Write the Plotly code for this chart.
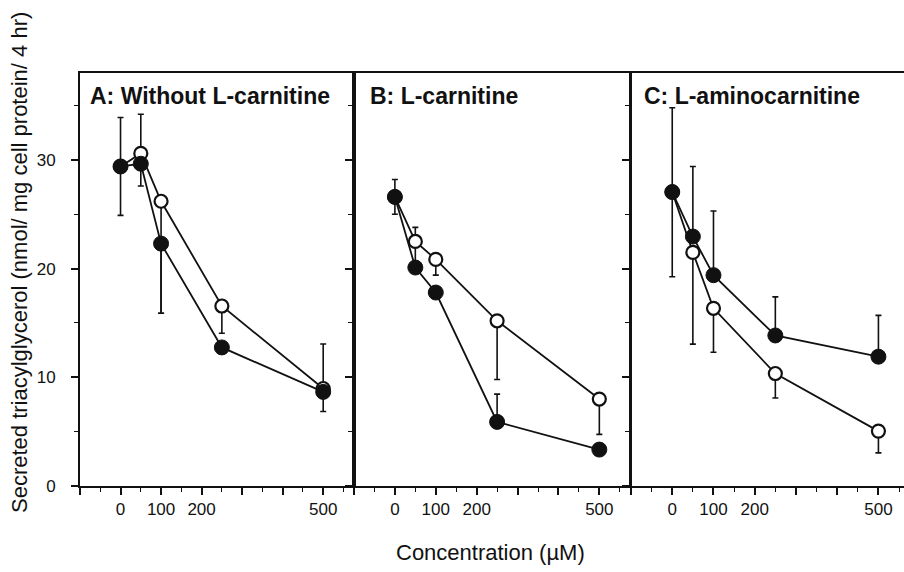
import plotly.graph_objects as go

conc = [0, 50, 100, 250, 500]

# Panel A: Without L-carnitine
a_filled = [29.4, 29.65, 22.3, 12.75, 8.66]
a_filled_plus = [4.5, 0, 0, 0, 0]
a_filled_minus = [4.5, 2.05, 6.4, 0, 1.8]
a_open = [29.4, 30.6, 26.2, 16.56, 8.97]
a_open_plus = [0, 3.6, 0, 0, 4.1]
a_open_minus = [0, 0, 10.3, 2.5, 0]

# Panel B: L-carnitine
b_filled = [26.6, 20.1, 17.8, 5.9, 3.35]
b_filled_plus = [1.6, 0, 0, 2.55, 0]
b_filled_minus = [1.6, 0, 0, 0, 0]
b_open = [26.6, 22.5, 20.85, 15.2, 8.0]
b_open_plus = [0, 1.3, 0, 0, 0]
b_open_minus = [0, 2.4, 1.45, 5.4, 3.25]

# Panel C: L-aminocarnitine
c_filled = [27.05, 22.95, 19.4, 13.85, 11.9]
c_filled_plus = [7.75, 6.45, 5.9, 3.55, 3.8]
c_filled_minus = [7.8, 0, 0, 0, 0]
c_open = [27.05, 21.5, 16.35, 10.35, 5.05]
c_open_plus = [0, 0, 0, 0, 0]
c_open_minus = [0, 8.45, 4.05, 2.25, 2.0]

panel_titles = ["A: Without L-carnitine", "B: L-carnitine", "C: L-aminocarnitine"]
x_tickvals = [-100, 0, 100, 200, 300, 400, 500]
x_ticktext = ["", "0", "100", "200", "", "", "500"]
y_tickvals = [0, 10, 20, 30]
y_ticktext = ["0", "10", "20", "30"]
x_title = "Concentration (µM)"
y_title = "Secreted triacylglycerol (nmol/ mg cell protein/ 4 hr)"

FONT = "Liberation Sans, Arial, Helvetica, sans-serif"
BLACK = "#111111"

panels = [
    (a_filled, a_filled_plus, a_filled_minus, a_open, a_open_plus, a_open_minus),
    (b_filled, b_filled_plus, b_filled_minus, b_open, b_open_plus, b_open_minus),
    (c_filled, c_filled_plus, c_filled_minus, c_open, c_open_plus, c_open_minus),
]

W, H = 904, 572
ML, MR, MT, MB = 80, 0, 73, 86
PW = W - ML - MR
px_edges = [(80, 354), (354, 630), (631, 904)]
x_ranges = [[-100, 576], [-100, 575], [-100, 562]]
title_off = [8, 14, 11]

fig = go.Figure()

for i, (fy, fp, fm, oy, op, om) in enumerate(panels):
    xa = "x" if i == 0 else f"x{i+1}"
    ya = "y" if i == 0 else f"y{i+1}"
    fig.add_trace(go.Scatter(
        x=conc, y=oy, xaxis=xa, yaxis=ya, mode="lines+markers",
        line=dict(color=BLACK, width=1.8),
        marker=dict(symbol="circle", size=13, color="white", line=dict(color=BLACK, width=2.2)),
        error_y=dict(type="data", symmetric=False, array=op, arrayminus=om,
                     color=BLACK, thickness=1.6, width=3),
        showlegend=False, cliponaxis=False,
    ))
    fig.add_trace(go.Scatter(
        x=conc, y=fy, xaxis=xa, yaxis=ya, mode="lines+markers",
        line=dict(color=BLACK, width=1.8),
        marker=dict(symbol="circle", size=15, color=BLACK, line=dict(color=BLACK, width=1)),
        error_y=dict(type="data", symmetric=False, array=fp, arrayminus=fm,
                     color=BLACK, thickness=1.6, width=3),
        showlegend=False, cliponaxis=False,
    ))

layout = dict(
    width=W, height=H,
    margin=dict(l=ML, r=MR, t=MT, b=MB, pad=0),
    paper_bgcolor="white", plot_bgcolor="white",
    font=dict(family=FONT, color=BLACK, size=17),
)

for i in range(3):
    xk = "xaxis" if i == 0 else f"xaxis{i+1}"
    yk = "yaxis" if i == 0 else f"yaxis{i+1}"
    x0, x1 = px_edges[i]
    dom = [(x0 - ML) / PW, (x1 - ML) / PW]
    layout[xk] = dict(
        domain=dom, range=x_ranges[i], anchor="y" if i == 0 else f"y{i+1}",
        tickmode="array", tickvals=x_tickvals, ticktext=x_ticktext,
        ticks="outside", ticklen=7, tickwidth=1.5, tickcolor=BLACK,
        minor=dict(dtick=50, tick0=0, ticks="outside", ticklen=4, tickwidth=1.2, tickcolor=BLACK, showgrid=False),
        showline=True, linecolor=BLACK, linewidth=1.8, mirror=True,
        showgrid=False, zeroline=False,
        tickfont=dict(size=17, family=FONT, color=BLACK),
        ticklabelstandoff=0,
    )
    layout[yk] = dict(
        domain=[0, 1], range=[0, 38], anchor="x" if i == 0 else f"x{i+1}",
        tickmode="array", tickvals=y_tickvals, ticktext=y_ticktext,
        ticks="outside", ticklen=7, tickwidth=1.5, tickcolor=BLACK,
        minor=dict(dtick=5, tick0=0, ticks="outside", ticklen=4, tickwidth=1.2, tickcolor=BLACK, showgrid=False),
        showline=True, linecolor=BLACK, linewidth=1.8, mirror=(i < 2),
        showgrid=False, zeroline=False,
        showticklabels=(i == 0),
        tickfont=dict(size=17, family=FONT, color=BLACK),
        ticklabelstandoff=12,
    )

fig.update_layout(**layout)

ph = H - MT - MB
annotations = []
for i in range(3):
    x0, x1 = px_edges[i]
    xref = "x domain" if i == 0 else f"x{i+1} domain"
    annotations.append(dict(
        text=f"<b>{panel_titles[i]}</b>", xref=xref, yref="paper",
        x=title_off[i] / (x1 - x0), y=(H - MB - 95.5) / ph,
        xanchor="left", yanchor="middle", showarrow=False,
        font=dict(size=23, family=FONT, color=BLACK),
    ))
annotations.append(dict(
    text=x_title, xref="paper", yref="paper",
    x=(490 - ML) / PW, y=(H - MB - 552) / ph,
    xanchor="center", yanchor="middle", showarrow=False,
    font=dict(size=22, family=FONT, color=BLACK),
))
annotations.append(dict(
    text=y_title, xref="paper", yref="paper",
    x=(19 - ML) / PW, y=(H - MB - 263) / ph,
    xanchor="center", yanchor="middle", showarrow=False, textangle=-90,
    font=dict(size=22, family=FONT, color=BLACK),
))
fig.update_layout(annotations=annotations)

fig.write_html(
    "out.html",
    config={"displayModeBar": False},
    post_script="document.body.style.margin='0';document.body.style.padding='0';document.body.style.overflow='hidden';",
)
